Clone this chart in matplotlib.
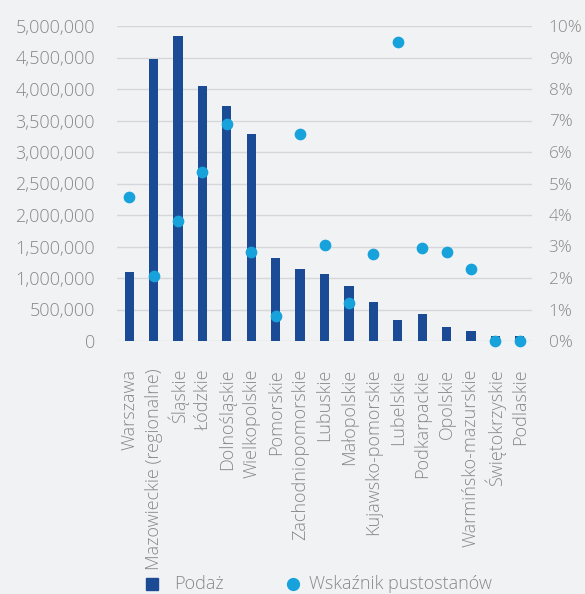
import matplotlib
matplotlib.use("Agg")
import matplotlib.pyplot as plt
from matplotlib.ticker import FuncFormatter, MultipleLocator
from matplotlib.lines import Line2D

categories = ["Warszawa", "Mazowieckie (regionalne)", "Śląskie", "Łódzkie", "Dolnośląskie",
              "Wielkopolskie", "Pomorskie", "Zachodniopomorskie", "Lubuskie", "Małopolskie",
              "Kujawsko-pomorskie", "Lubelskie", "Podkarpackie", "Opolskie",
              "Warmińsko-mazurskie", "Świętokrzyskie", "Podlaskie"]
supply = [1100000, 4480000, 4840000, 4040000, 3730000, 3290000, 1310000, 1140000, 1070000,
          880000, 620000, 340000, 430000, 230000, 160000, 80000, 80000]
vacancy = [4.58, 2.06, 3.81, 5.37, 6.89, 2.84, 0.78, 6.56, 3.05, 1.20, 2.76, 9.49, 2.94, 2.84,
           2.29, 0.0, 0.0]
legend_labels = ["Podaż", "Wskaźnik pustostanów"]

bar_color = "#1c4b96"
dot_color = "#17a2db"
bg = "#f1f2f4"
txt = "#888888"
grid = "#d6d7da"
fs = 13

plt.rcParams['font.family'] = ['Open Sans', 'DejaVu Sans']
plt.rcParams['font.weight'] = 'light'

W, H = 585, 594
fig = plt.figure(figsize=(W / 100, H / 100), dpi=100, facecolor=bg)
ax = fig.add_axes([117 / W, 1 - 341 / H, (532 - 117) / W, (341 - 26) / H])
ax.set_facecolor(bg)
x = list(range(len(categories)))
ax.bar(x, supply, width=0.38, color=bar_color, zorder=2)
ax.set_ylim(0, 5000000)
ax.set_xlim(-0.5, len(categories) - 0.5)
ax.yaxis.set_major_locator(MultipleLocator(500000))
ax.yaxis.set_major_formatter(FuncFormatter(lambda v, p: f"{int(v):,}"))
ax.grid(axis='y', color=grid, linewidth=1.0, zorder=0)
ax.set_axisbelow(True)
for s in ax.spines.values():
    s.set_visible(False)
ax.tick_params(axis='y', length=0, pad=16, labelsize=fs, labelcolor=txt)
ax.set_xticks(x)
ax.set_xticklabels(categories, rotation=90, fontsize=fs, color=txt)
ax.tick_params(axis='x', length=0, pad=20)

ax2 = ax.twinx()
ax2.scatter(x, vacancy, s=55, color=dot_color, zorder=5, clip_on=False)
ax2.set_ylim(0, 10)
ax2.yaxis.set_major_locator(MultipleLocator(1))
ax2.yaxis.set_major_formatter(FuncFormatter(lambda v, p: f"{int(round(v))}%"))
ax2.tick_params(axis='y', length=0, pad=12, labelsize=12.3, labelcolor=txt)
for s in ax2.spines.values():
    s.set_visible(False)

ly = 1 - 584 / H
fig.add_artist(Line2D([152 / W], [ly], marker='s', linestyle='', color=bar_color,
                      markersize=8, transform=fig.transFigure))
fig.text(174 / W, ly, legend_labels[0], fontsize=fs, color=txt, va='center', ha='left')
fig.add_artist(Line2D([293 / W], [ly], marker='o', linestyle='', color=dot_color,
                      markersize=8.5, transform=fig.transFigure))
fig.text(309 / W, ly, legend_labels[1], fontsize=fs, color=txt, va='center', ha='left')

fig.savefig("out.png", dpi=100, facecolor=bg)
